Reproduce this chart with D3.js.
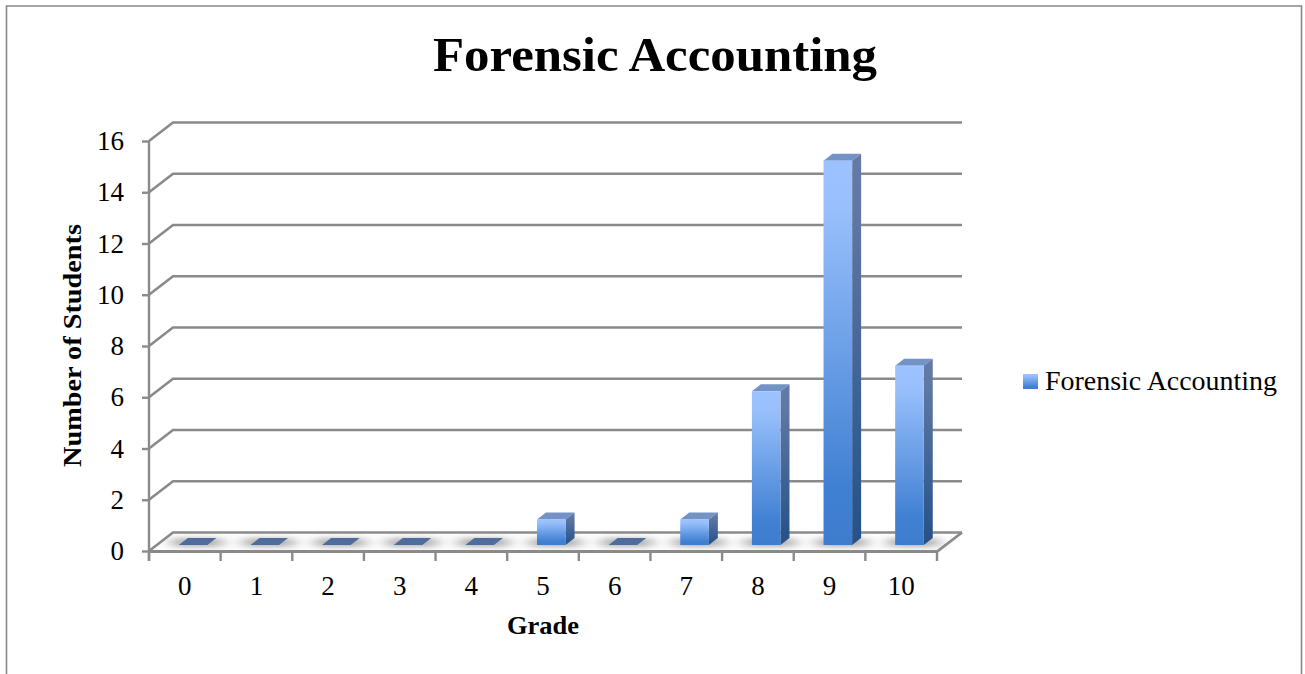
<!DOCTYPE html>
<html>
<head>
<meta charset="utf-8">
<script src="https://cdn.jsdelivr.net/npm/d3@7/dist/d3.min.js"></script>
<style>
html,body{margin:0;padding:0;background:#fff;overflow:hidden}
svg{display:block}
text{font-family:"Liberation Serif",serif;fill:#000}
</style>
</head>
<body>
<svg id="chart" width="1305" height="674"></svg>
<script>
// Grade distribution for the course
const chartTitle = "Forensic Accounting";
const seriesName = "Forensic Accounting";
const xTitle = "Grade";
const yTitle = "Number of Students";
const grades = ["0","1","2","3","4","5","6","7","8","9","10"];
const students = [0,0,0,0,0,1,0,1,6,15,7];
const yTicks = [0,2,4,6,8,10,12,14,16];

const svg = d3.select("#chart");
const defs = svg.append("defs");

// Front plane of the 3D box and the offset to its back wall
const left = 149, right = 937, floorY = 551, topY = 141;
const depthX = 24, depthY = -18.5;
// Bars sit part way into the floor and have their own shallow depth
const barWidth = 28.6, barInsetY = -6, barDepthX = 9, barDepthY = -7;
const gridColor = "#8a8a8a";

const x = d3.scaleBand().domain(grades).range([left, right]);
const y = d3.scaleLinear().domain([0, 16]).range([floorY, topY]);
const barLeft = g => x(g) + 29.8;
const barBase = y(0) + barInsetY;
const barTop = v => y(v) + barInsetY;

function gradient(id, stops) {
  const g = defs.append("linearGradient").attr("id", id)
    .attr("x1", 0).attr("y1", 0).attr("x2", 0).attr("y2", 1);
  stops.forEach(([o, c]) => g.append("stop").attr("offset", o).attr("stop-color", c));
}
gradient("front", [[0, "#9cc3ff"], [0.12, "#99c0fc"], [0.85, "#4080d2"], [1, "#3e7dce"]]);
gradient("side", [[0, "#657ba6"], [0.15, "#5f77a3"], [0.9, "#2a558c"], [1, "#275288"]]);
defs.append("filter").attr("id", "floorShadow")
  .attr("x", "-40%").attr("y", "-200%").attr("width", "180%").attr("height", "500%")
  .append("feGaussianBlur").attr("stdDeviation", "8 3");

// Outer frame, cut off by the bottom edge of the page
svg.append("path")
  .attr("d", "M6.5,674V6H1301.5V674")
  .attr("fill", "none").attr("stroke", "#888").attr("stroke-width", 1.6);

// Back wall and side wall gridlines
const grid = svg.append("g").attr("fill", "none").attr("stroke", gridColor).attr("stroke-width", 2.6);
grid.selectAll("path").data(yTicks).join("path")
  .attr("d", t => `M${left},${y(t)}L${left + depthX},${y(t) + depthY}H${right + depthX + 1}`);

// Floor edges
grid.append("path").attr("stroke-width", 2.8)
  .attr("d", `M${left},${floorY + 0.5}H${right}L${right + depthX + 1},${floorY + depthY}`);

// Left axis with its tick labels
const yAxis = svg.append("g").attr("transform", `translate(${left},0)`)
  .call(d3.axisLeft(y).tickValues(yTicks).tickSize(7).tickPadding(18));
yAxis.select(".domain").attr("stroke", gridColor).attr("stroke-width", 2.4)
  .attr("d", `M0,${topY}V${floorY + 10}`);
yAxis.selectAll(".tick line").attr("stroke", gridColor).attr("stroke-width", 2.4);
yAxis.selectAll("text").attr("font-size", 27).attr("font-family", null)
  .attr("dy", "0.32em").style("fill", "#000");

// Bottom axis: labels centred in each band, ticks on the band edges
const xAxis = svg.append("g").attr("transform", `translate(0,${floorY})`)
  .call(d3.axisBottom(x).tickSize(0).tickPadding(25));
xAxis.select(".domain").remove();
xAxis.selectAll("text").attr("font-size", 27).attr("font-family", null).style("fill", "#000");
xAxis.selectAll("line.edge").data(grades.concat("end")).join("line")
  .attr("class", "edge")
  .attr("x1", (g, i) => left + i * x.step()).attr("x2", (g, i) => left + i * x.step())
  .attr("y1", 0).attr("y2", 10)
  .attr("stroke", gridColor).attr("stroke-width", 2.4);

// Soft shadows on the floor
svg.append("g").selectAll("rect").data(grades).join("rect")
  .attr("x", g => barLeft(g) - 7)
  .attr("y", barBase - 6)
  .attr("width", barWidth + 22)
  .attr("height", 7)
  .attr("fill", "#9a9a9a")
  .attr("filter", "url(#floorShadow)");

// Bars: top face, side face, then front face
const bars = svg.append("g").selectAll("g")
  .data(grades.map((g, i) => ({ g, v: students[i] })))
  .join("g");

bars.append("path")
  .attr("fill", d => d.v === 0 ? "#4f6d9c" : "#7393c6")
  .attr("d", d => {
    const l = barLeft(d.g), t = barTop(d.v);
    return `M${l},${t}l${barDepthX},${barDepthY}h${barWidth}l${-barDepthX},${-barDepthY}Z`;
  });
bars.filter(d => d.v > 0).append("path")
  .attr("fill", "url(#side)")
  .attr("d", d => {
    const r = barLeft(d.g) + barWidth, t = barTop(d.v);
    return `M${r},${t}l${barDepthX},${barDepthY}V${barBase + barDepthY}L${r},${barBase}Z`;
  });
bars.filter(d => d.v > 0).append("rect")
  .attr("fill", "url(#front)")
  .attr("x", d => barLeft(d.g))
  .attr("y", d => barTop(d.v))
  .attr("width", barWidth)
  .attr("height", d => barBase - barTop(d.v));

// Titles
svg.append("text").attr("x", 655).attr("y", 71).attr("text-anchor", "middle")
  .attr("font-size", 49).attr("font-weight", 700)
  .attr("textLength", 444).attr("lengthAdjust", "spacingAndGlyphs").text(chartTitle);
svg.append("text").attr("x", 543).attr("y", 634).attr("text-anchor", "middle")
  .attr("font-size", 26).attr("font-weight", 700)
  .attr("textLength", 72).attr("lengthAdjust", "spacingAndGlyphs").text(xTitle);
svg.append("text").attr("transform", "translate(81,345.5) rotate(-90)").attr("text-anchor", "middle")
  .attr("font-size", 26).attr("font-weight", 700)
  .attr("textLength", 243).attr("lengthAdjust", "spacingAndGlyphs").text(yTitle);

// Legend
svg.append("rect").attr("x", 1023).attr("y", 374).attr("width", 15).attr("height", 15)
  .attr("fill", "url(#front)");
svg.append("text").attr("x", 1045).attr("y", 390)
  .attr("font-size", 28)
  .attr("textLength", 232).attr("lengthAdjust", "spacingAndGlyphs").text(seriesName);
</script>
</body>
</html>
